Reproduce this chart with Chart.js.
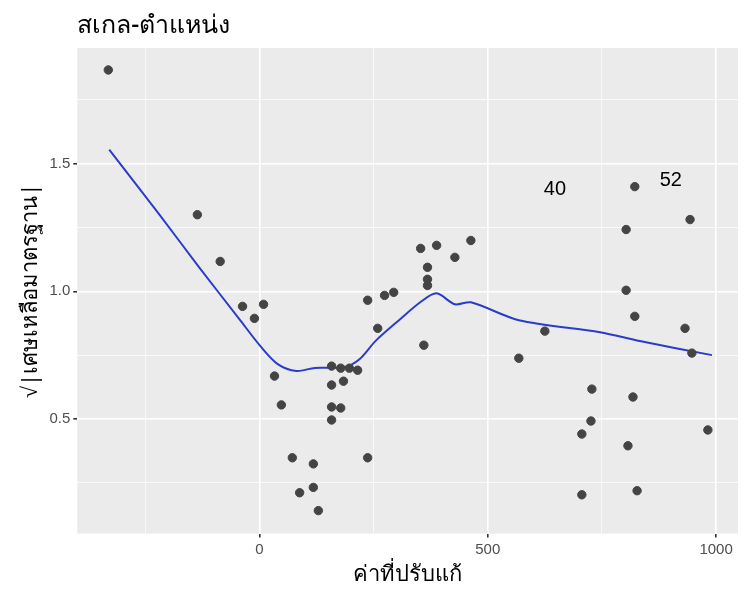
<!DOCTYPE html><html><head><meta charset="utf-8">
<script src="https://cdn.jsdelivr.net/npm/chart.js@4"></script>
<style>body{margin:0;background:#fff}</style></head><body>
<canvas id="c" width="750" height="600"></canvas>
<script>
const px=[-331,-136,-86,-37,-11,9,33,48,72,88,118,118,129,158,158,158,158,178,184,178,197,215,237,237,259,274,294,353,360,368,368,368,388,428,463,568,625,706,706,726,728,803,803,807,818,822,822,827,932,943,947,982];
const py=[1.867,1.30,1.117,0.941,0.894,0.949,0.668,0.555,0.348,0.211,0.324,0.232,0.141,0.707,0.633,0.547,0.496,0.699,0.648,0.543,0.699,0.691,0.348,0.965,0.855,0.984,0.996,1.168,0.789,1.094,1.047,1.023,1.18,1.133,1.199,0.738,0.844,0.203,0.441,0.492,0.617,1.242,1.004,0.395,0.586,1.41,0.902,0.219,0.855,1.281,0.758,0.457];
const lx=[-329,-219,-132,-44,4,40,81,121,186,219,254,303,355,388,428,463,568,746,833,991];
const ly=[1.555,1.30,1.094,0.891,0.781,0.715,0.688,0.70,0.703,0.734,0.805,0.883,0.961,0.992,0.949,0.957,0.887,0.840,0.805,0.75];
const labels=[{t:"40",x:647,y:1.398},{t:"52",x:901,y:1.434}];
const titleText='สเกล-ตำแหน่ง';
const bg={id:'bg',beforeDraw(c){const a=c.chartArea,g=c.ctx;g.save();g.fillStyle='#EBEBEB';g.fillRect(a.left,a.top,a.width,a.height);
g.font='500 25px "Noto Sans"';g.fillStyle='#000';g.textBaseline='alphabetic';g.fillText(titleText,a.left,33);g.restore();},
afterDatasetsDraw(c){const g=c.ctx;g.save();g.font='20px "Liberation Sans"';g.fillStyle='#000';g.textAlign='center';g.textBaseline='middle';labels.forEach(l=>g.fillText(l.t,c.scales.x.getPixelForValue(l.x),c.scales.y.getPixelForValue(l.y)));g.restore();}};
const isMaj=(v,s)=>Math.abs(v/s-Math.round(v/s))<1e-6;
const gc=(s)=>({color:'#fff',lineWidth:c=>(isMaj(c.tick.value,s)?1.6:0.7),drawTicks:true,tickColor:c=>(isMaj(c.tick.value,s)?'#333':'rgba(0,0,0,0)'),tickLength:4});
new Chart(document.getElementById('c'),{type:'scatter',data:{datasets:[
{data:px.map((x,i)=>({x,y:py[i]})),backgroundColor:'#444',borderColor:'#444',pointRadius:4.2},
{type:'line',data:lx.map((x,i)=>({x,y:ly[i]})),borderColor:'#2B3BCC',borderWidth:2,pointRadius:0,tension:0.3,fill:false}]},
options:{responsive:false,animation:false,devicePixelRatio:1,layout:{padding:{right:12,top:48,left:14,bottom:8}},
plugins:{legend:{display:false},tooltip:{enabled:false},title:{display:false}},
scales:{x:{min:-399,max:1048,border:{display:false},grid:gc(500),afterBuildTicks:s=>{s.ticks=[-250,0,250,500,750,1000].map(v=>({value:v}))},
ticks:{color:'#4D4D4D',font:{size:15,family:'"Liberation Sans"'},callback:v=>v%500===0?v:''},
title:{display:true,text:'ค่าที่ปรับแก้',font:{size:22,family:'"Noto Sans"'},color:'#000',padding:{top:0}}},
y:{min:0.051,max:1.953,border:{display:false},grid:gc(0.5),afterBuildTicks:s=>{s.ticks=[0.25,0.5,0.75,1,1.25,1.5,1.75].map(v=>({value:v}))},
ticks:{color:'#4D4D4D',font:{size:15,family:'"Liberation Sans"'},callback:v=>isMaj(v,0.5)?v.toFixed(1):''},
title:{display:true,text:'√|เศษเหลือมาตรฐาน|',font:{size:22,family:'"Noto Sans"'},color:'#000',padding:{bottom:2}}}}},plugins:[bg]});
</script></body></html>
